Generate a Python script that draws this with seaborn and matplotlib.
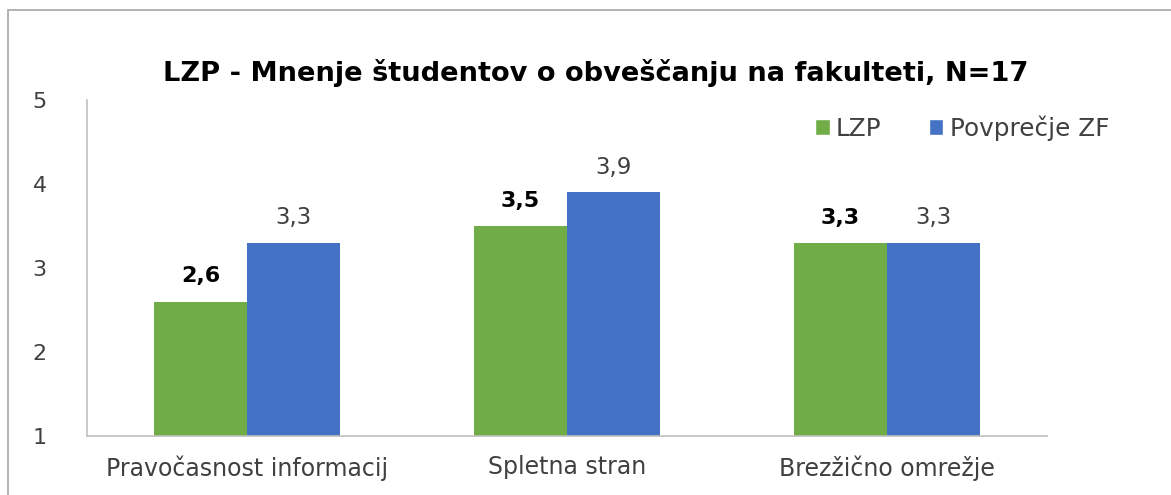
import matplotlib
matplotlib.use("Agg")
import matplotlib.pyplot as plt
import seaborn as sns
import pandas as pd
from matplotlib.patches import Rectangle, Patch

categories = ["Pravočasnost informacij", "Spletna stran", "Brezžično omrežje"]
series_names = ["LZP", "Povprečje ZF"]
lzp_values = [2.6, 3.5, 3.3]
zf_values = [3.3, 3.9, 3.3]
y_ticks = [1, 2, 3, 4, 5]
title = "LZP - Mnenje študentov o obveščanju na fakulteti, N=17"

colors = ["#70AD47", "#4472C4"]

df = pd.DataFrame({
    "cat": categories * 2,
    "series": [series_names[0]] * 3 + [series_names[1]] * 3,
    "val": lzp_values + zf_values,
})

sns.set_theme(style="white")
plt.rcParams["font.family"] = ["DejaVu Sans"]

fig = plt.figure(figsize=(11.71, 4.95), dpi=100)
ax = fig.add_axes([87/1171, 1-436/495, 960/1171, 336/495])

sns.barplot(data=df, x="cat", y="val", hue="series", palette=colors,
            width=0.58, ax=ax, legend=False, saturation=1, linewidth=0)

ax.set_ylim(1, 5)
ax.set_yticks(y_ticks)
ax.set_yticklabels([str(t) for t in y_ticks], fontsize=16, color="#404040")
ax.tick_params(axis="x", labelsize=17, length=0, pad=14)
ax.tick_params(axis="y", length=0, pad=29)
ax.set_xlabel("")
ax.set_ylabel("")
ax.set_xlim(-0.5, 2.5)
for side in ["top", "right"]:
    ax.spines[side].set_visible(False)
for side in ["left", "bottom"]:
    ax.spines[side].set_color("#BFBFBF")
    ax.spines[side].set_linewidth(1.2)
for lbl in ax.get_xticklabels():
    lbl.set_color("#404040")

# bars start from the axis bottom (value 1)
for c in ax.containers:
    for bar in c:
        h = bar.get_height()
        bar.set_y(1)
        bar.set_height(h - 1)

for i, c in enumerate(ax.containers):
    vals = lzp_values if i == 0 else zf_values
    labels = [f"{v:.1f}".replace(".", ",") for v in vals]
    if i == 0:
        ax.bar_label(c, labels=labels, padding=11, fontsize=16, fontweight="bold", color="black")
    else:
        ax.bar_label(c, labels=labels, padding=10, fontsize=16.5, color="#404040")

fig.text(596/1171, 1-73/495, title, ha="center", va="center", fontsize=19.6,
         fontweight="bold", color="black")

handles = [Patch(facecolor=colors[0]), Patch(facecolor=colors[1])]
fig.legend(handles, series_names, loc="center left", bbox_to_anchor=(815/1171, 1-128/495),
           ncol=2, frameon=False, fontsize=17.8, handlelength=0.6, handleheight=0.6,
           handletextpad=0.25, columnspacing=1.9, labelcolor="#404040",
           borderpad=0, borderaxespad=0)

fig.add_artist(Rectangle((8/1171, -0.1), 1.2, 1.1 - 10/495, transform=fig.transFigure,
                         fill=False, edgecolor="#A6A6A6", linewidth=1.2))

fig.savefig("out.png", dpi=100)
